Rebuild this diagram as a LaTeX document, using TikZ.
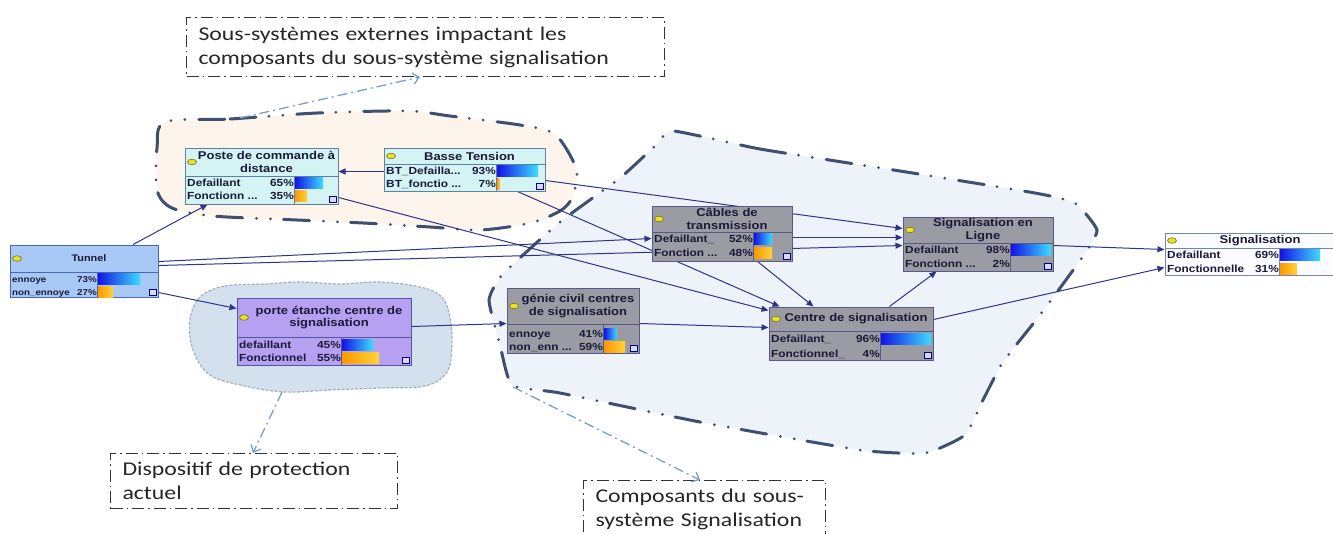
\documentclass[tikz,border=0pt]{standalone}
\usepackage{fontspec}
\setmainfont{Carlito}[FakeStretch=1.22]
\newfontfamily\bnfont{Liberation Sans}[FakeStretch=1.15]
\usetikzlibrary{arrows.meta,fit}

\definecolor{linkcol}{HTML}{2F3487}
\definecolor{textcol}{HTML}{1A1A38}
\definecolor{cyanfill}{HTML}{D4F3F3}
\definecolor{cyanline}{HTML}{5F7FA6}
\definecolor{tunnelfill}{HTML}{A8C8F6}
\definecolor{tunnelline}{HTML}{4A66B8}
\definecolor{lilacfill}{HTML}{B6A0F2}
\definecolor{lilacline}{HTML}{55559E}
\definecolor{greyfill}{HTML}{9B9BA3}
\definecolor{greyline}{HTML}{565A8A}
\definecolor{whitefill}{HTML}{FAFCFF}
\definecolor{whiteline}{HTML}{7484B4}
\definecolor{barblueL}{HTML}{1414E6}
\definecolor{barblueR}{HTML}{3CDCFF}
\definecolor{barorangeL}{HTML}{FF9800}
\definecolor{barorangeR}{HTML}{FFD23C}
\definecolor{extfill}{HTML}{FDF4EC}
\definecolor{sigfill}{HTML}{EEF2F9}
\definecolor{cloudfill}{HTML}{D3E1EF}
\definecolor{cloudline}{HTML}{A7B0BA}
\definecolor{groupline}{HTML}{3E4F70}
\definecolor{notearrow}{HTML}{7E9DC6}
\definecolor{ovalfill}{HTML}{E6E228}

\pgfdeclarelayer{back}
\pgfdeclarelayer{links}
\pgfsetlayers{back,links,main}

\tikzset{
  bnbox/.style={draw, line width=1pt, inner sep=0pt},
  cyanbox/.style={fill=cyanfill, draw=cyanline},
  tunnelbox/.style={fill=tunnelfill, draw=tunnelline},
  lilacbox/.style={fill=lilacfill, draw=lilacline},
  greybox/.style={fill=greyfill, draw=greyline},
  whitebox/.style={fill=whitefill, draw=whiteline},
  bntitle/.style={align=center, inner sep=0pt, text=textcol,
    font=\bnfont\bfseries\fontsize{11.3}{12.5}\selectfont},
  bnrowtext/.style={inner sep=0pt, text=textcol,
    font=\bnfont\bfseries\fontsize{10.3}{11}\selectfont},
  bnoval/.style={fill=ovalfill, draw=olive!80!black, line width=0.6pt},
  bnicon/.style={fill=white!85!blue, draw=blue!50!black, line width=0.6pt},
  bluebar/.style={left color=barblueL, right color=barblueR},
  orangebar/.style={left color=barorangeL, right color=barorangeR},
  nobar/.style={},
  link/.style={draw=linkcol, line width=1pt, -{Triangle[length=7pt,width=6pt]}},
  grouparea/.style={draw=groupline, line width=3pt, line cap=round,
    dash pattern=on 26pt off 13pt on 0pt off 14pt on 0pt off 14pt},
  cloudarea/.style={fill=cloudfill, draw=cloudline, line width=1.2pt,
    dash pattern=on 3pt off 1.5pt},
  note/.style={draw=black!80, line width=1pt, fill=white,
    dash pattern=on 12pt off 4pt on 1.5pt off 4pt,
    anchor=north west, align=left, inner xsep=12pt, inner ysep=0pt,
    text=black!85, font=\fontsize{19.5}{24}\selectfont},
  notelink/.style={draw=notearrow, line width=1.3pt,
    dash pattern=on 10pt off 4pt on 2pt off 4pt,
    -{Straight Barb[length=6pt,width=11pt]}},
}

% network node: name, colours, x1, y1, x2, y2, header line, bar column, title
\newcommand{\bnnode}[9]{%
  \node[bnbox,#2,fit={(#3,#4) (#5,#6)}] (#1) {};
  \draw[#2,fill=none,line width=0.8pt] (#3,#7) -- (#5,#7);
  \draw[#2,fill=none,line width=0.6pt] (#8,#7) -- (#8,#6);
  \draw[bnoval] ({#3+7},{(#4+#7)/2}) ellipse [x radius=4.5pt, y radius=2.8pt];
  \node[bntitle] at ({(#3+#5)/2+5},{(#4+#7)/2}) {#9};
  \draw[bnicon] ({#5-9},{#6-8}) rectangle ({#5-2},{#6-2});
}
% state row: label x, bar column, y, label, percent, bar length, bar colour
\newcommand{\bnrow}[7]{%
  \node[bnrowtext,anchor=base west] at (#1,{#3+3.8}) {#4};
  \node[bnrowtext,anchor=base east] at (#2,{#3+3.8}) {#5};
  \path[#7] ({#2+1},{#3-5.5}) rectangle ({#2+1+#6},{#3+5.5});
}

\begin{document}
\begin{tikzpicture}[x=1pt,y=-1pt]
    \useasboundingbox (0,0) rectangle (1333,533);

    % Areas behind the network
    \begin{pgfonlayer}{back}
        \draw[grouparea, fill=extfill] plot[smooth cycle, tension=0.5] coordinates {
            (165,122) (230,119) (317,113) (407,111) (450,116) (520,125) (553,133)
            (570,155) (577,175) (572,198) (560,211) (530,223) (480,230) (430,227)
            (363,223) (297,220) (213,216) (172,208) (157,190) (157,148)};
        \draw[grouparea, fill=sigfill] plot[smooth cycle, tension=0.3] coordinates {
            (673,131) (760,149) (900,171) (1035,193) (1075,203) (1097,230) (1084,255)
            (1040,315) (1003,362) (983,400) (965,435) (925,453) (860,450) (700,422)
            (560,393) (512,385) (500,345) (489,300) (503,274) (560,222) (620,178) (655,146)};
        \draw[cloudarea] plot[smooth cycle, tension=0.6] coordinates {
            (200,297) (225,286) (265,284) (300,282) (340,284) (380,282) (420,287)
            (442,297) (450,318) (452,345) (447,372) (425,386) (380,388) (330,390)
            (285,392) (245,386) (210,375) (193,350) (190,320)};
    \end{pgfonlayer}

    % Network nodes
    \begin{scope}[bntitle/.append style={font=\bnfont\bfseries\fontsize{9.5}{11}\selectfont},
                  bnrowtext/.append style={font=\bnfont\bfseries\fontsize{8.5}{10}\selectfont}]
        \bnnode{tunnel}{tunnelbox}{10}{245}{158}{297}{272}{97}{Tunnel}
        \bnrow{12}{97}{279}{ennoye}{73\%}{42}{bluebar}
        \bnrow{12}{97}{292}{non\_ennoye}{27\%}{15}{orangebar}
    \end{scope}

    \bnnode{poste}{cyanbox}{185}{148}{338}{204}{176}{294}{Poste de commande à\\distance}
    \bnrow{187}{294}{183}{Defaillant}{65\%}{28}{bluebar}
    \bnrow{187}{294}{196}{Fonctionn ...}{35\%}{12}{orangebar}

    \bnnode{bt}{cyanbox}{384}{148}{545}{191}{164}{496}{Basse Tension}
    \bnrow{386}{496}{171}{BT\_Defailla...}{93\%}{41}{bluebar}
    \bnrow{386}{496}{184}{BT\_fonctio ...}{7\%}{3}{orangebar}

    \bnnode{porte}{lilacbox}{237}{298}{411}{365}{337}{341}{porte étanche centre de\\signalisation}
    \bnrow{239}{341}{345}{defaillant}{45\%}{31}{bluebar}
    \bnrow{239}{341}{358}{Fonctionnel}{55\%}{37}{orangebar}

    \bnnode{genie}{greybox}{507}{288}{639}{353}{324}{603}{génie civil centres\\de signalisation}
    \bnrow{509}{603}{334}{ennoye}{41\%}{13}{bluebar}
    \bnrow{509}{603}{347}{non\_enn ...}{59\%}{21}{orangebar}

    \bnnode{cables}{greybox}{652}{206}{792}{261}{232}{753}{Câbles de\\transmission}
    \bnrow{654}{753}{239}{Defaillant\_}{52\%}{18}{bluebar}
    \bnrow{654}{753}{253}{Fonction ...}{48\%}{18}{orangebar}

    \bnnode{centre}{greybox}{769}{307}{933}{360}{331}{880}{Centre de signalisation}
    \bnrow{771}{880}{339}{Defaillant\_}{96\%}{50}{bluebar}
    \bnrow{771}{880}{354}{Fonctionnel\_}{4\%}{0}{nobar}

    \bnnode{sigligne}{greybox}{903}{217}{1053}{271}{243}{1010}{Signalisation en\\Ligne}
    \bnrow{905}{1010}{250}{Defaillant}{98\%}{40}{bluebar}
    \bnrow{905}{1010}{264}{Fonctionn ...}{2\%}{0}{nobar}

    \bnnode{signal}{whitebox}{1165}{233}{1345}{275}{248}{1279}{Signalisation}
    \bnrow{1167}{1279}{255}{Defaillant}{69\%}{40}{bluebar}
    \bnrow{1167}{1279}{269}{Fonctionnelle}{31\%}{17}{orangebar}

    % Links between nodes
    \begin{pgfonlayer}{links}
        \draw[link] ([xshift=49pt]tunnel.north) -- ([xshift=23pt]poste.south west);
        \draw[link] ([yshift=5pt]tunnel.south east) -- ([yshift=-11pt]porte.north west);
        \draw[link] ([yshift=-17pt]tunnel.north east) -- ([yshift=-33pt]cables.north west);
        \draw[link] ([yshift=-21pt]tunnel.north east) -- ([yshift=-29pt]sigligne.north west);
        \draw[link] ([yshift=-24pt]bt.north west) -- ([yshift=-24pt]poste.north east);
        \draw[link] ([yshift=-33pt]bt.north east) -- ([yshift=-12pt]sigligne.north west);
        \draw[link] ([xshift=-28pt]bt.south east) -- ([xshift=11pt]centre.north west);
        \draw[link] ([yshift=7pt]poste.south east) -- ([yshift=-4pt]centre.north west);
        \draw[link] ([yshift=-32pt]cables.north east) -- ([yshift=-21pt]sigligne.north west);
        \draw[link] ([xshift=-35pt]cables.south east) -- ([xshift=45pt]centre.north west);
        \draw[link] ([yshift=-29pt]porte.north east) -- ([yshift=-36pt]genie.north west);
        \draw[link] ([yshift=-36pt]genie.north east) -- ([yshift=-21pt]centre.north west);
        \draw[link] ([xshift=121pt]centre.north west) -- ([xshift=34pt]sigligne.south west);
        \draw[link] ([yshift=-29pt]sigligne.north east) -- ([yshift=-17pt]signal.north west);
        \draw[link] ([yshift=-13pt]centre.north east) -- ([yshift=-35pt]signal.north west);
    \end{pgfonlayer}

    % Callouts
    \node[note, text width=454pt, minimum height=59pt] (extnote) at (186,17)
        {Sous-systèmes externes impactant les\\composants du sous-système signalisation};
    \node[note, text width=263pt, minimum height=55pt] (protnote) at (110,453)
        {Dispositif de protection\\actuel};
    \node[note, text width=218pt, minimum height=57pt] (compnote) at (583,480)
        {Composants du sous-\\système Signalisation};

    \coordinate (extedge) at (240,118);
    \coordinate (cloudedge) at (282,392);
    \coordinate (sigedge) at (513,387);
    \draw[notelink] (extedge) -- ([xshift=234pt]extnote.south west);
    \draw[notelink] (cloudedge) -- ([xshift=143pt]protnote.north west);
    \draw[notelink] (sigedge) -- ([xshift=117pt]compnote.north west);
\end{tikzpicture}
\end{document}
